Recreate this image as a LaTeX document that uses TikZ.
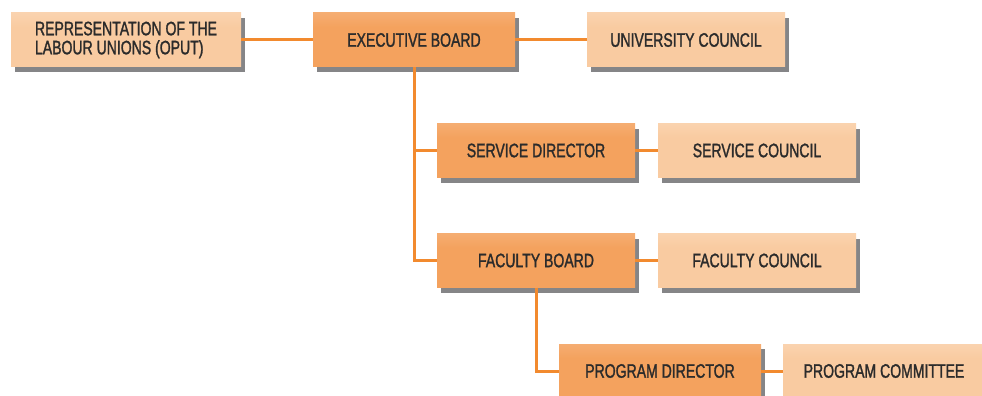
\documentclass[tikz,border=0pt]{standalone}
\usepackage{fontspec}
\setmainfont{Liberation Sans}[FakeStretch=0.72, FakeBold=1.4]
\usetikzlibrary{shadows}
\definecolor{dkt}{HTML}{F8C297}
\definecolor{dkb}{HTML}{F4A25E}
\definecolor{ltt}{HTML}{FDE2C9}
\definecolor{ltb}{HTML}{F9CBA1}
\definecolor{lnc}{HTML}{F28A2E}
\definecolor{shd}{HTML}{858587}
\definecolor{txt}{HTML}{2B2B2B}
\pgfdeclareverticalshading{darkshade}{100bp}{color(0bp)=(dkb); color(62bp)=(dkb); color(100bp)=(dkt)}
\pgfdeclareverticalshading{lightshade}{100bp}{color(0bp)=(ltb); color(62bp)=(ltb); color(100bp)=(ltt)}
\tikzset{
  boxbase/.style={minimum width=202pt, minimum height=54pt, inner sep=0pt,
    font=\fontsize{19.5}{19}\selectfont, text=txt,
    drop shadow={shadow xshift=4pt, shadow yshift=-5pt, fill=shd, opacity=1}},
  darkbox/.style={boxbase, shading=darkshade},
  lightbox/.style={boxbase, shading=lightshade},
  conn/.style={draw=lnc, line width=3pt}
}
\begin{document}
\begin{tikzpicture}[x=1pt,y=-1pt]
\useasboundingbox (0,0) rectangle (982,396);
\node[lightbox, minimum width=230pt, align=left] (rep) at (126,40) {REPRESENTATION OF THE\\LABOUR UNIONS (OPUT)};
\node[darkbox] (exec) at (414,40) {EXECUTIVE BOARD};
\node[lightbox, minimum width=198pt] (univ) at (686,40) {UNIVERSITY COUNCIL};
\node[darkbox, minimum width=198pt] (sdir) at (536,150.5) {SERVICE DIRECTOR};
\node[lightbox, minimum width=198pt] (scou) at (757,150.5) {SERVICE COUNCIL};
\node[darkbox, minimum width=198pt] (fb) at (536,260.5) {FACULTY BOARD};
\node[lightbox, minimum width=198pt] (fc) at (757,260.5) {FACULTY COUNCIL};
\node[darkbox] (pd) at (660,371) {PROGRAM DIRECTOR};
\node[lightbox] (pc) at (884,371) {PROGRAM COMMITTEE};
\draw[conn] (rep.east) -- (exec.west);
\draw[conn] (exec.east) -- (univ.west);
\draw[conn] (exec.south) |- (sdir.west);
\draw[conn] (exec.south) |- (fb.west);
\draw[conn] (sdir.east) -- (scou.west);
\draw[conn] (fb.east) -- (fc.west);
\draw[conn] (fb.south) |- (pd.west);
\draw[conn] (pd.east) -- (pc.west);
\end{tikzpicture}
\end{document}
